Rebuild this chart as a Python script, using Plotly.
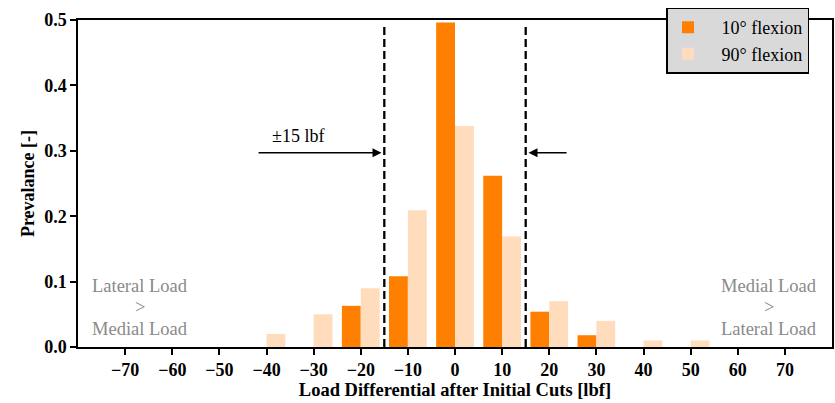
import plotly.graph_objects as go

# ---- data ----
bins = [-40, -30, -20, -10, 0, 10, 20, 30, 40, 50]
flex10 = [0.0, 0.0, 0.063, 0.108, 0.496, 0.262, 0.054, 0.018, 0.0, 0.0]
flex90 = [0.020, 0.050, 0.090, 0.209, 0.338, 0.169, 0.070, 0.040, 0.010, 0.010]
series_names = ["10° flexion", "90° flexion"]
x_ticks = [-70, -60, -50, -40, -30, -20, -10, 0, 10, 20, 30, 40, 50, 60, 70]
y_ticks = [0.0, 0.1, 0.2, 0.3, 0.4, 0.5]
threshold = 15

FONT = "Liberation Serif, Times New Roman, serif"
ORANGE = "#ff8000"
PEACH = "#ffdcbc"
NB = "\u00a0"

fig = go.Figure()
fig.add_trace(go.Bar(x=bins, y=flex10, name=NB * 3 + series_names[0],
                     marker=dict(color=ORANGE, line=dict(width=0))))
fig.add_trace(go.Bar(x=bins, y=flex90, name=NB * 3 + series_names[1],
                     marker=dict(color=PEACH, line=dict(width=0))))

# threshold lines
for xv in (-threshold, threshold):
    fig.add_shape(type="line", x0=xv, x1=xv, y0=0, y1=0.493, xref="x", yref="y",
                  line=dict(color="black", width=2.3, dash="8px,4px"), layer="above")

# arrows
fig.add_annotation(x=-threshold - 0.6, y=0.297, ax=-42, ay=0.297, xref="x", yref="y",
                   axref="x", ayref="y", showarrow=True, arrowhead=2, arrowsize=1.2,
                   arrowwidth=1.5, arrowcolor="black", text="")
fig.add_annotation(x=threshold + 0.6, y=0.297, ax=24, ay=0.297, xref="x", yref="y",
                   axref="x", ayref="y", showarrow=True, arrowhead=2, arrowsize=1.2,
                   arrowwidth=1.5, arrowcolor="black", text="")
fig.add_annotation(x=-33.4, y=0.322, xref="x", yref="y", text="±15 lbf", showarrow=False,
                   font=dict(family=FONT, size=18, color="black"))

# side labels
left_lines = ["Lateral Load", ">", "Medial Load"]
right_lines = ["Medial Load", ">", "Lateral Load"]
line_y = [0.094, 0.061, 0.027]
for txt, yv in zip(left_lines, line_y):
    fig.add_annotation(x=-66.9, y=yv, xref="x", yref="y", text=txt, showarrow=False,
                       font=dict(family=FONT, size=18.5, color="#8a8a8a"))
for txt, yv in zip(right_lines, line_y):
    fig.add_annotation(x=66.7, y=yv, xref="x", yref="y", text=txt, showarrow=False,
                       font=dict(family=FONT, size=18.5, color="#8a8a8a"))

fig.update_layout(
    width=835, height=403,
    margin=dict(l=78, r=1, t=20, b=56),
    paper_bgcolor="white", plot_bgcolor="white",
    barmode="group", bargap=0.2, bargroupgap=0,
    font=dict(family=FONT, size=18, color="black"),
    legend=dict(x=0.7805, y=1.038, xanchor="left", yanchor="top",
                bgcolor="#d9d9d9", bordercolor="black", borderwidth=1.5,
                font=dict(family=FONT, size=18, color="black")),
    xaxis=dict(range=[-80, 80], tickvals=x_ticks, showgrid=False, zeroline=False,
               showline=True, linecolor="black", linewidth=1.5, mirror=True,
               ticks="outside", ticklen=6, tickwidth=1.5, tickcolor="black",
               tickfont=dict(family=FONT, size=18, weight="bold"),
               title=dict(text="Load Differential after Initial Cuts [lbf]", standoff=4,
                          font=dict(family=FONT, size=18.5, weight="bold"))),
    yaxis=dict(range=[0, 0.5], tickvals=y_ticks, tickformat=".1f", showgrid=False,
               zeroline=False, showline=True, linecolor="black", linewidth=1.5, mirror=True,
               ticks="outside", ticklen=6, tickwidth=1.5, tickcolor="black",
               tickfont=dict(family=FONT, size=18, weight="bold"),
               title=dict(text="Prevalance [-]", standoff=5,
                          font=dict(family=FONT, size=18, weight="bold"))),
)

fig.write_html("out.html")
